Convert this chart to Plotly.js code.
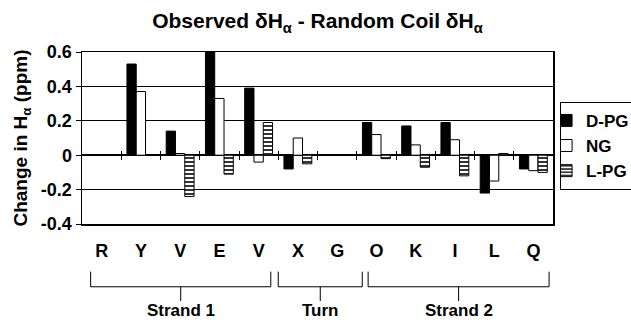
<!DOCTYPE html>
<html>
<head>
<meta charset="utf-8">
<script src="https://cdn.plot.ly/plotly-3.0.1.min.js"></script>
<style>html,body{margin:0;padding:0;background:#fff;}#chart{width:631px;height:322px;}</style>
</head>
<body>
<div id="chart"></div>
<script>
// Residues along the peptide
const residues = ['R','Y','V','E','V','X','G','O','K','I','L','Q'];
// Observed - random coil Hα shift (ppm)
const dPG = [null, 0.53, 0.14, 0.60, 0.39, -0.08, null, 0.19, 0.17, 0.19, -0.22, -0.08];
const NG  = [null, 0.37, 0.01, 0.33, -0.04, 0.10, null, 0.12, 0.06, 0.09, -0.15, -0.09];
const lPG = [null, null, -0.24, -0.11, 0.19, -0.05, null, -0.02, -0.07, -0.12, 0.01, -0.10];
// y tick labels
const yTickVals = [-0.4, -0.2, 0, 0.2, 0.4, 0.6];
const yTickText = ['-0.4', '-0.2', '0', '0.2', '0.4', '0.6'];
// Secondary-structure groups (bracket extents in residue index units)
const groupNames = ['Strand 1', 'Turn', 'Strand 2'];
const groupLeft  = [-0.28, 4.50, 6.79];
const groupRight = [4.31, 6.64, 11.40];

const xs = residues.map((_, i) => i);
const boundaries = residues.slice(1).map((_, i) => i + 0.5);
const FONT = 'Arial, "Liberation Sans", Helvetica, sans-serif';

const traces = [
  {type: 'bar', name: 'D-PG', x: xs, y: dPG,
   marker: {color: '#000', line: {color: '#000', width: 1}}},
  {type: 'bar', name: 'NG', x: xs, y: NG,
   marker: {color: '#fff', line: {color: '#000', width: 1}}},
  {type: 'bar', name: 'L-PG', x: xs, y: lPG,
   marker: {color: '#fff', line: {color: '#000', width: 1},
            pattern: {shape: '-', fgcolor: '#000', bgcolor: '#fff', size: 4, solidity: 0.4}}},
  // empty helper traces so the zero-line tick axes are drawn
  {type: 'scatter', x: [], y: [], xaxis: 'x2', yaxis: 'y', showlegend: false, hoverinfo: 'skip'},
  {type: 'scatter', x: [], y: [], xaxis: 'x3', yaxis: 'y', showlegend: false, hoverinfo: 'skip'}
];

const shapes = [];
const annotations = [];
const yTop = -0.277, yBar = -0.365, yStem = -0.448;
groupNames.forEach((g, i) => {
  const l = groupLeft[i], r = groupRight[i], m = (l + r) / 2;
  shapes.push({type: 'path', xref: 'x', yref: 'paper',
    path: `M ${l},${yTop} L ${l},${yBar} L ${r},${yBar} L ${r},${yTop}`,
    line: {color: '#000', width: 1}});
  shapes.push({type: 'line', xref: 'x', yref: 'paper', x0: m, x1: m, y0: yBar, y1: yStem,
    line: {color: '#000', width: 1}});
  annotations.push({xref: 'x', yref: 'paper', x: m, y: -0.505, text: g, showarrow: false,
    xanchor: 'center', yanchor: 'middle',
    font: {family: FONT, size: 17, weight: 'bold', color: '#000'}});
});

const tickAxis = (dir) => ({
  overlaying: 'x', anchor: 'free', position: 0.4, range: [-0.5, 11.5],
  tickmode: 'array', tickvals: boundaries, ticks: dir, ticklen: 4, tickwidth: 1, tickcolor: '#000',
  showticklabels: false, showline: false, showgrid: false, zeroline: false
});

const layout = {
  width: 631, height: 322,
  margin: {l: 82, r: 78, t: 52, b: 98, autoexpand: false},
  paper_bgcolor: '#fff', plot_bgcolor: '#fff',
  font: {family: FONT, color: '#000', size: 18, weight: 'bold'},
  title: {text: 'Observed δH<sub>α</sub> - Random Coil δH<sub>α</sub>',
    x: 0.5, xref: 'paper', xanchor: 'center', y: 0.935, yref: 'container', yanchor: 'middle',
    font: {family: FONT, size: 21, weight: 'bold', color: '#000'}},
  barmode: 'group', bargap: 0.29, bargroupgap: 0,
  xaxis: {range: [-0.5, 11.5], tickmode: 'array', tickvals: xs, ticktext: residues,
    ticks: '', showgrid: false, zeroline: false, showline: true, linecolor: '#000', linewidth: 1.5,
    mirror: true, ticklabelstandoff: 10,
    tickfont: {family: FONT, size: 18, weight: 'bold', color: '#000'}},
  xaxis2: tickAxis('outside'),
  xaxis3: tickAxis('inside'),
  yaxis: {range: [-0.4, 0.6], tickmode: 'array', tickvals: yTickVals, ticktext: yTickText,
    ticks: 'outside', ticklen: 5, tickcolor: '#000', tickwidth: 1,
    showgrid: true, gridcolor: '#000', gridwidth: 1,
    zeroline: true, zerolinecolor: '#000', zerolinewidth: 1.5,
    showline: true, linecolor: '#000', linewidth: 1.5, mirror: true,
    tickfont: {family: FONT, size: 18, weight: 'bold', color: '#000'},
    title: {text: 'Change in H<sub>α</sub> (ppm)', standoff: 8,
      font: {family: FONT, size: 19, weight: 'bold', color: '#000'}}},
  showlegend: true,
  legend: {x: 1.015, y: 0.71, xanchor: 'left', yanchor: 'top', xref: 'paper', yref: 'paper',
    bordercolor: '#000', borderwidth: 1, bgcolor: '#fff', itemwidth: 30, indentation: -15,
    tracegroupgap: 0,
    font: {family: FONT, size: 17, weight: 'bold', color: '#000'}},
  shapes: shapes,
  annotations: annotations
};

Plotly.newPlot('chart', traces, layout, {displayModeBar: false, staticPlot: true});
</script>
</body>
</html>
